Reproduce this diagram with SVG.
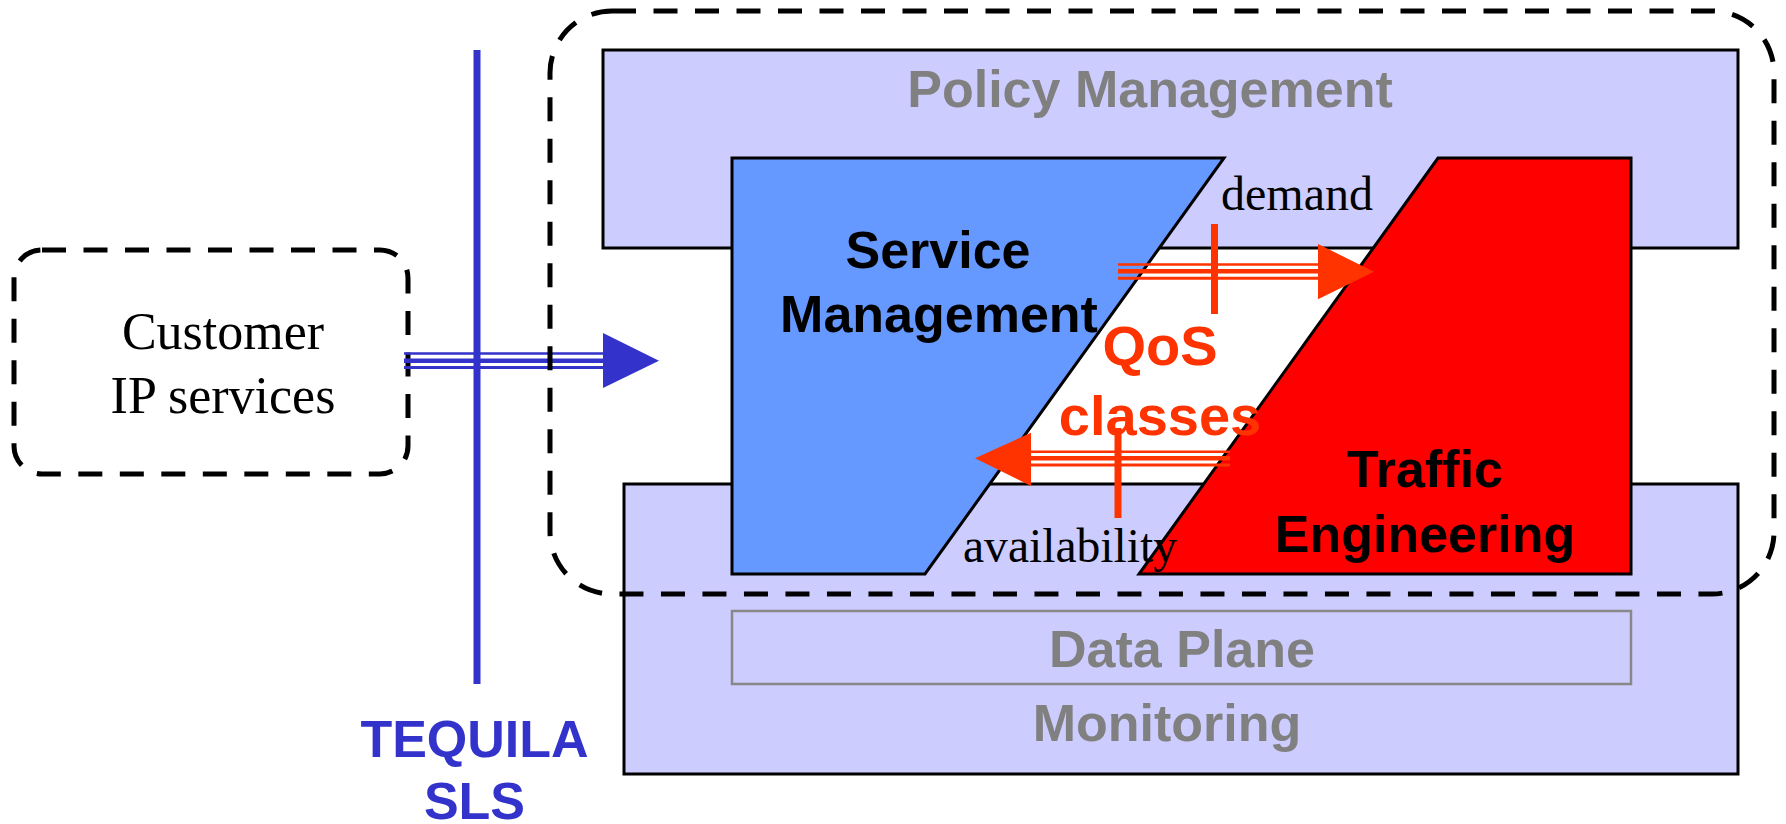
<svg xmlns="http://www.w3.org/2000/svg" width="1786" height="824" viewBox="0 0 1786 824">
  <style>
    .band { fill: #CCCCFF; stroke: #000000; stroke-width: 3; }
    .dash { fill: none; stroke: #000000; stroke-width: 5; stroke-dasharray: 24 17.5; }
    .bold { font-family: "Liberation Sans", Arial, sans-serif; font-weight: bold; font-size: 52px; text-anchor: middle; }
    .gray { fill: #808080; }
    .serif { font-family: "Liberation Serif", "Times New Roman", serif; font-size: 52px; fill: #000000; }
    .blue { stroke: #3333CC; }
    .orange { stroke: #FF3300; }
  </style>
  <rect width="1786" height="824" fill="#FFFFFF"/>

  <g id="policy-management">
    <rect class="band" x="603" y="50" width="1135" height="198"/>
    <text class="bold gray" x="1150" y="107">Policy Management</text>
  </g>

  <g id="monitoring">
    <rect class="band" x="624" y="484" width="1114" height="290"/>
    <text class="bold gray" x="1167" y="741">Monitoring</text>
  </g>

  <g id="data-plane">
    <rect x="732" y="611" width="899" height="73" fill="#CCCCFF" stroke="#888888" stroke-width="2.5"/>
    <text class="bold gray" x="1182" y="667">Data Plane</text>
  </g>

  <g id="service-management">
    <polygon points="732,158 1224,158 925,574 732,574" fill="#6699FF" stroke="#000000" stroke-width="3"/>
    <text class="bold" x="938" y="268" fill="#000000">Service</text>
    <text class="bold" x="939" y="332" fill="#000000">Management</text>
  </g>

  <g id="traffic-engineering">
    <polygon points="1438,158 1631,158 1631,574 1139,574" fill="#FF0000" stroke="#000000" stroke-width="3"/>
    <text class="bold" x="1425" y="487" fill="#000000">Traffic</text>
    <text class="bold" x="1425" y="552" fill="#000000">Engineering</text>
  </g>

  <g id="customer-ip-services">
    <rect class="dash" x="14" y="250" width="394" height="224" rx="28" ry="28"/>
    <text class="serif" x="223" y="349" text-anchor="middle">Customer</text>
    <text class="serif" x="223" y="413" text-anchor="middle">IP services</text>
  </g>

  <g id="tequila-sls">
    <line class="blue" x1="477" y1="50" x2="477" y2="684" stroke-width="7"/>
    <text class="bold" x="474.5" y="757" fill="#3333CC">TEQUILA</text>
    <text class="bold" x="474.5" y="819" fill="#3333CC">SLS</text>
  </g>

  <g id="qos-classes">
    <text class="bold" x="1160" y="365" fill="#FF3300" style="font-size:56px">QoS</text>
    <text class="bold" x="1160" y="435" fill="#FF3300" style="font-size:56px">classes</text>
  </g>

  <g id="connectors">
    <!-- customer to service management -->
    <g class="blue" fill="none">
      <line x1="404" y1="353.5" x2="605" y2="353.5" stroke-width="2.5"/>
      <line x1="404" y1="360.7" x2="605" y2="360.7" stroke-width="4.5"/>
      <line x1="404" y1="367.5" x2="605" y2="367.5" stroke-width="3"/>
    </g>
    <polygon points="603,333 659,360.7 603,388" fill="#3333CC"/>

    <!-- demand arrow -->
    <g class="orange" fill="none">
      <line x1="1118" y1="264.5" x2="1320" y2="264.5" stroke-width="2.5"/>
      <line x1="1118" y1="271.2" x2="1320" y2="271.2" stroke-width="4.5"/>
      <line x1="1118" y1="278.3" x2="1320" y2="278.3" stroke-width="3"/>
      <line x1="1214.5" y1="224" x2="1214.5" y2="314" stroke-width="7"/>
    </g>
    <polygon points="1318,244 1374,271.7 1318,299.3" fill="#FF3300"/>

    <!-- availability arrow -->
    <g class="orange" fill="none">
      <line x1="1029" y1="451.7" x2="1230" y2="451.7" stroke-width="2.5"/>
      <line x1="1029" y1="458.3" x2="1230" y2="458.3" stroke-width="4.5"/>
      <line x1="1029" y1="465" x2="1230" y2="465" stroke-width="3"/>
      <line x1="1118" y1="428" x2="1118" y2="518" stroke-width="7"/>
    </g>
    <polygon points="1031,432.7 975,458.3 1031,486" fill="#FF3300"/>

    <text class="serif" x="1221" y="210" style="font-size:48px">demand</text>
    <text class="serif" x="963" y="562" style="font-size:48px" textLength="214" lengthAdjust="spacingAndGlyphs">availability</text>
  </g>

  <g id="tequila-domain">
    <rect class="dash" x="550" y="11" width="1224" height="583" rx="62" ry="62"/>
  </g>
</svg>
